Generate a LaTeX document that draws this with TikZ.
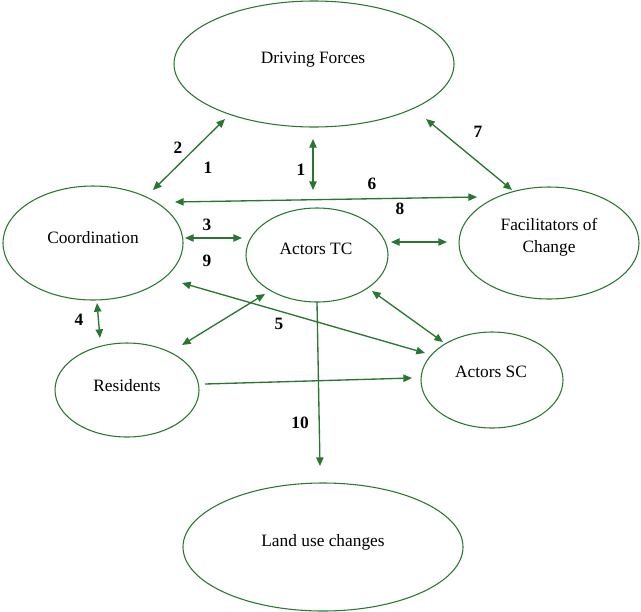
\documentclass[tikz,border=0pt]{standalone}
\usepackage{fontspec}
\setmainfont{Liberation Serif}
\usetikzlibrary{shapes.geometric,arrows.meta,calc}
\definecolor{lgreen}{RGB}{40,118,48}
\begin{document}
\begin{tikzpicture}[x=0.75pt,y=-0.75pt,
  oval/.style={draw=lgreen,line width=0.8pt,ellipse,inner sep=0pt},
  txt/.style={font=\fontsize{13}{16.5}\selectfont,align=center,inner sep=0pt},
  num/.style={font=\fontsize{13}{16}\selectfont\bfseries,inner sep=0pt},
  link/.style={draw=lgreen,line width=1pt,{Triangle[length=6.5pt,width=5.5pt]}-{Triangle[length=6.5pt,width=5.5pt]}},
  onelink/.style={draw=lgreen,line width=1pt,-{Triangle[length=6.5pt,width=5.5pt]}}]
\useasboundingbox (0,0) rectangle (641,611);
% ellipses
\node[oval,minimum width=210pt,minimum height=94.5pt] (drive) at (314,64) {};
\node[oval,minimum width=135pt,minimum height=85.5pt] (coord) at (93,243) {};
\node[oval,minimum width=106.5pt,minimum height=70.5pt] (atc) at (317,255) {};
\node[oval,minimum width=135pt,minimum height=84pt] (fac) at (549,243) {};
\node[oval,minimum width=108pt,minimum height=70.5pt] (res) at (127,390) {};
\node[oval,minimum width=106.5pt,minimum height=72pt] (asc) at (492,380) {};
\node[oval,minimum width=210pt,minimum height=96pt] (land) at (323,547) {};
% texts
\node[txt] (tdrive) at (313,60) {Driving Forces};
\node[txt] (tcoord) at (93,238) {Coordination};
\node[txt] (tatc) at (316,249) {Actors TC};
\node[txt] (tfac) at (549,237) {Facilitators of\\Change};
\node[txt] (tres) at (127,386) {Residents};
\node[txt] (tasc) at (491,372) {Actors SC};
\node[txt] (tland) at (323,542) {Land use changes};
% connectors
\draw[link] ($(coord)+(60,-53)$) -- ($(drive)+(-89,55)$);
\draw[link] ($(drive)+(-1,75)$) -- ($(atc)+(-4,-65)$);
\draw[link] ($(coord)+(82,-41)$) -- ($(fac)+(-72,-46)$);
\draw[link] ($(drive)+(112,55)$) -- ($(fac)+(-37,-53)$);
\draw[link] ($(coord)+(92,-5)$) -- ($(atc)+(-75,-17)$);
\draw[link] ($(atc)+(74,-13)$) -- ($(fac)+(-102,-1)$);
\draw[link] ($(coord)+(89,40)$) -- ($(asc)+(-67,-27)$);
\draw[link] ($(res)+(55,-45)$) -- ($(atc)+(-52,39)$);
\draw[link] ($(atc)+(55,36)$) -- ($(asc)+(-49,-38)$);
\draw[link] ($(coord)+(4,60)$) -- ($(res)+(-27,-52)$);
\draw[onelink] ($(res)+(78,-6)$) -- ($(asc)+(-80,-2)$);
\draw[onelink] ($(atc)+(0,47)$) -- ($(land)+(-3,-81)$);
% numbers
\node[num] (n2) at (178,148) {2};
\node[num] (n1a) at (208,168) {1};
\node[num] (n1b) at (301,170) {1};
\node[num] (n6) at (372,184) {6};
\node[num] (n8) at (400,209) {8};
\node[num] (n7) at (478,132) {7};
\node[num] (n3) at (207,225) {3};
\node[num] (n9) at (207,261) {9};
\node[num] (n4) at (79,320) {4};
\node[num] (n5) at (279,324) {5};
\node[num] (n10) at (300,423) {10};
\end{tikzpicture}
\end{document}
